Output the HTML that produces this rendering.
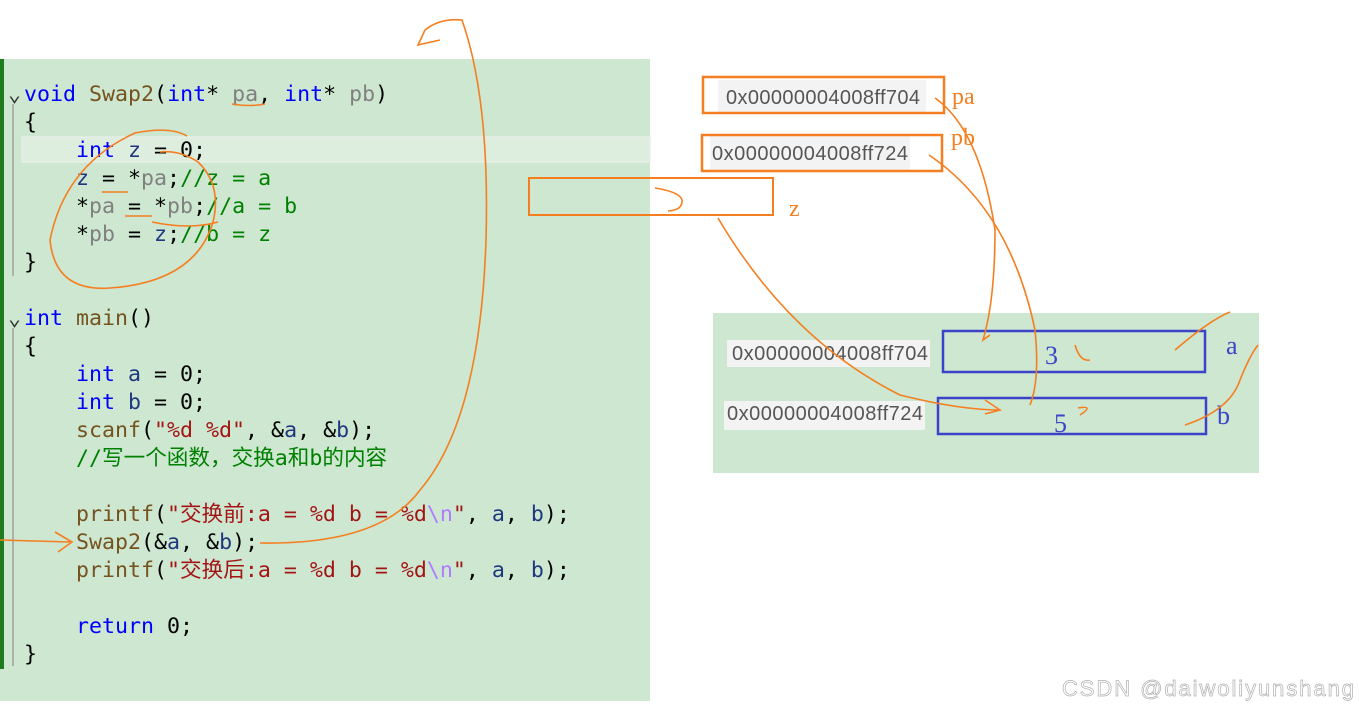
<!DOCTYPE html>
<html><head><meta charset="utf-8"><style>
html,body{margin:0;padding:0;background:#fff;}
svg{display:block}
.c{font-family:"DejaVu Sans Mono","Liberation Mono","Noto Sans CJK SC",monospace;font-size:21.6px;white-space:pre}
.k{fill:#0000ff}.f{fill:#74531f}.p{fill:#808080}.m{fill:#008000}.s{fill:#a31515}.d{fill:#1f377f}.e{fill:#9b9b9b}
.h{font-family:"Liberation Sans",sans-serif;font-size:20px;fill:#555}
.o{fill:none;stroke:#f57f20;stroke-width:1.6}
</style></head><body>
<svg width="1359" height="711" viewBox="0 0 1359 711" xmlns="http://www.w3.org/2000/svg">
<rect x="0" y="59" width="650" height="642" fill="#cde7d0"/>
<rect x="0" y="59" width="4" height="610" fill="#1e7b1e"/>
<rect x="22" y="137" width="628" height="25" fill="#ddeedf" stroke="#e8eee9" stroke-width="1.5"/>
<g stroke="#a0a0a0" stroke-width="1.5"><line x1="13" y1="104" x2="13" y2="276"/><line x1="13" y1="328" x2="13" y2="666"/></g>
<g class="c" xml:space="preserve">
<text x="8" y="101" fill="#333">⌄</text>
<text x="24" y="101"><tspan class="k">void</tspan> <tspan class="f">Swap2</tspan>(<tspan class="k">int</tspan>* <tspan class="p">pa</tspan>, <tspan class="k">int</tspan>* <tspan class="p">pb</tspan>)</text>
<text x="24" y="129">{</text>
<text x="76" y="157"><tspan class="k">int</tspan> <tspan class="d">z</tspan> = 0;</text>
<text x="76" y="185"><tspan class="d">z</tspan> = *<tspan class="p">pa</tspan>;<tspan class="m">//z = a</tspan></text>
<text x="76" y="213">*<tspan class="p">pa</tspan> = *<tspan class="p">pb</tspan>;<tspan class="m">//a = b</tspan></text>
<text x="76" y="241">*<tspan class="p">pb</tspan> = <tspan class="d">z</tspan>;<tspan class="m">//b = z</tspan></text>
<text x="24" y="269">}</text>
<text x="8" y="325" fill="#333">⌄</text>
<text x="24" y="325"><tspan class="k">int</tspan> <tspan class="f">main</tspan>()</text>
<text x="24" y="353">{</text>
<text x="76" y="381"><tspan class="k">int</tspan> <tspan class="d">a</tspan> = 0;</text>
<text x="76" y="409"><tspan class="k">int</tspan> <tspan class="d">b</tspan> = 0;</text>
<text x="76" y="437"><tspan class="f">scanf</tspan>(<tspan class="s">"%d %d"</tspan>, &amp;<tspan class="d">a</tspan>, &amp;<tspan class="d">b</tspan>);</text>
<text x="76" y="465" class="m">//写一个函数，交换a和b的内容</text>
<text x="76" y="521"><tspan class="f">printf</tspan>(<tspan class="s">"交换前:a = %d b = %d</tspan><tspan fill="#b07cff">\n</tspan><tspan class="s">"</tspan>, <tspan class="d">a</tspan>, <tspan class="d">b</tspan>);</text>
<text x="76" y="549"><tspan class="f">Swap2</tspan>(&amp;<tspan class="d">a</tspan>, &amp;<tspan class="d">b</tspan>);</text>
<text x="76" y="577"><tspan class="f">printf</tspan>(<tspan class="s">"交换后:a = %d b = %d</tspan><tspan fill="#b07cff">\n</tspan><tspan class="s">"</tspan>, <tspan class="d">a</tspan>, <tspan class="d">b</tspan>);</text>
<text x="76" y="633"><tspan class="k">return</tspan> 0;</text>
<text x="24" y="661">}</text>
</g>
<rect x="718" y="80" width="208" height="33" fill="#f3f3f3"/>
<rect x="703" y="77" width="241" height="36" fill="none" stroke="#f57f20" stroke-width="2.5"/>
<text x="726" y="104" class="h" textLength="194">0x00000004008ff704</text>
<rect x="710" y="136" width="200" height="34" fill="#f3f3f3"/>
<rect x="702" y="135" width="240" height="36" fill="none" stroke="#f57f20" stroke-width="2.5"/>
<text x="712" y="160" class="h" textLength="196">0x00000004008ff724</text>
<rect x="529" y="178" width="244" height="37" fill="none" stroke="#f57f20" stroke-width="2"/>
<g font-family="Liberation Serif,serif" font-size="24" fill="#f57f20"><text x="952" y="104">pa</text><text x="951" y="145">pb</text><text x="789" y="216">z</text></g>
<rect x="713" y="313" width="546" height="160" fill="#cde7d0"/>
<rect x="727" y="340" width="203" height="27" fill="#f3f3f3"/>
<text x="732" y="360" class="h" textLength="196">0x00000004008ff704</text>
<rect x="724" y="401" width="201" height="29" fill="#f3f3f3"/>
<text x="727" y="420" class="h" textLength="196">0x00000004008ff724</text>
<rect x="943" y="331" width="262" height="41" fill="none" stroke="#3b44c8" stroke-width="2.5"/>
<rect x="938" y="398" width="268" height="36" fill="none" stroke="#3b44c8" stroke-width="2.5"/>
<g font-family="Liberation Serif,serif" font-size="26" fill="#3b44c8"><text x="1045" y="364">3</text><text x="1054" y="432">5</text><text x="1226" y="354">a</text><text x="1217" y="424">b</text></g>
<path class="o" d="M232 104 Q250 107 265 104 M187 136 Q170 126 135 133 Q65 165 50 240 Q55 292 110 288 Q195 282 213 222 Q222 185 198 162 Q180 150 160 152 M152 222 Q190 230 218 222 M102 192 L128 192 M125 216 L152 216"/>
<path class="o" d="M260 543 Q380 545 420 490 Q480 420 486 240 Q490 100 462 20 Q440 18 425 30 L418 45 L440 40"/>
<path class="o" d="M0 540 L70 542 M55 532 L72 542 L58 552"/>
<path class="o" d="M935 98 Q980 130 995 230 Q995 300 983 340 L990 335"/>
<path class="o" d="M929 155 Q1010 210 1035 330 Q1040 380 1030 405"/>
<path class="o" d="M718 218 Q790 340 900 395 Q960 410 1000 410 M985 400 L1000 410 L985 414"/>
<path class="o" d="M1175 350 Q1210 320 1230 312 M1185 425 Q1230 410 1240 380 Q1250 355 1258 345"/>
<path class="o" d="M655 188 Q680 192 682 200 Q683 210 668 211 M1075 345 Q1080 362 1090 360 M1078 408 Q1095 405 1080 415"/>
<text x="1062" y="696" font-family="Liberation Sans,sans-serif" font-size="22" fill="#ffffff" stroke="#b0b0b0" stroke-width="0.7" textLength="292">CSDN @daiwoliyunshang</text>
</svg>
</body></html>
